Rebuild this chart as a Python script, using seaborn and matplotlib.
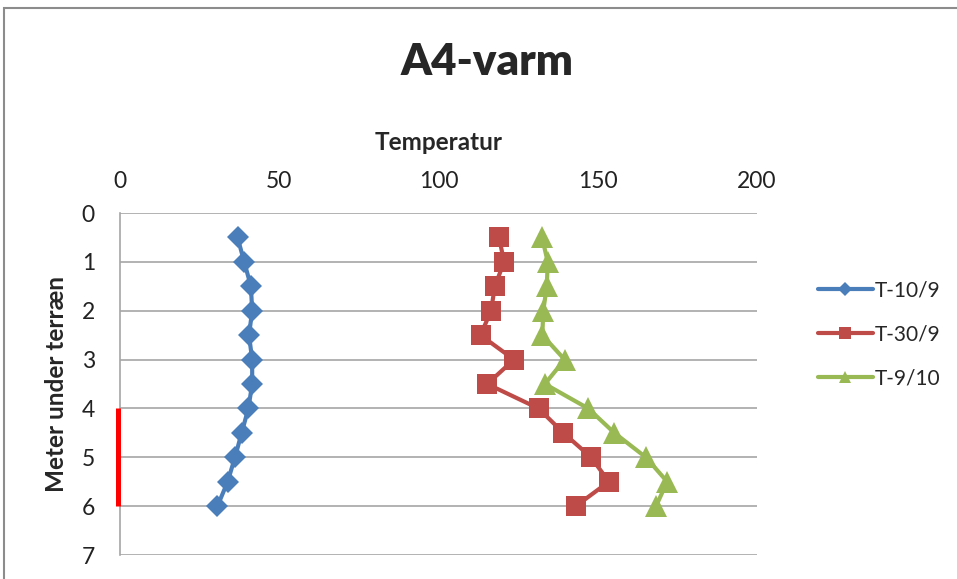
import matplotlib
matplotlib.use("Agg")
import matplotlib.pyplot as plt
from matplotlib.lines import Line2D
from matplotlib.patches import Rectangle
import seaborn as sns
import pandas as pd

# Depth below ground level (m)
depth = [0.5, 1.0, 1.5, 2.0, 2.5, 3.0, 3.5, 4.0, 4.5, 5.0, 5.5, 6.0]

# Temperature readings per date
t_10_9 = [36.9, 39.0, 41.1, 41.5, 40.5, 41.5, 41.5, 40.3, 38.2, 36.1, 33.8, 30.6]
t_30_9 = [119.0, 120.6, 117.7, 116.5, 113.2, 123.7, 115.3, 131.4, 139.2, 147.9, 153.5, 143.1]
t_9_10 = [132.5, 134.3, 134.0, 132.9, 132.6, 139.6, 133.4, 147.0, 155.2, 165.1, 171.8, 168.3]

series_names = ["T-10/9", "T-30/9", "T-9/10"]
series_values = [t_10_9, t_30_9, t_9_10]

x_ticks = [0, 50, 100, 150, 200]
y_ticks = [0, 1, 2, 3, 4, 5, 6, 7]

title = "A4-varm"
x_label = "Temperatur"
y_label = "Meter under terræn"

colors = {"T-10/9": "#4A7EBB", "T-30/9": "#BE4B48", "T-9/10": "#98B954"}
markers = {"T-10/9": "D", "T-30/9": "s", "T-9/10": "^"}
msizes = {"T-10/9": 11.5, "T-30/9": 15, "T-9/10": 16}

df = pd.concat(
    [pd.DataFrame({"temp": v, "depth": depth, "series": n})
     for n, v in zip(series_names, series_values)],
    ignore_index=True,
)

sns.set_theme(style="white")
plt.rcParams["font.family"] = ["Lato", "DejaVu Sans"]

W, H = 957, 579
fig = plt.figure(figsize=(W / 100, H / 100), dpi=100)
ax = fig.add_axes([120 / W, 1 - 555 / H, (757 - 120) / W, (555 - 213) / H])

for name in series_names:
    sns.lineplot(
        data=df[df["series"] == name], x="temp", y="depth",
        sort=False, estimator=None, ax=ax,
        color=colors[name], linewidth=3.0,
        marker=markers[name], markersize=msizes[name],
        markeredgewidth=0, legend=False, zorder=3,
    )

ax.set_xlim(0, 200)
ax.set_ylim(7, 0)
ax.set_xticks(x_ticks)
ax.set_yticks(y_ticks)
ax.xaxis.tick_top()
ax.xaxis.set_label_position("top")
ax.tick_params(axis="both", length=0, labelsize=16.5, colors="#222222")
ax.tick_params(axis="x", pad=15)
ax.tick_params(axis="y", pad=18)

ax.grid(axis="y", color="#A6A6A6", linewidth=1.2)
ax.grid(axis="x", visible=False)
for side in ["top", "right", "bottom"]:
    ax.spines[side].set_visible(False)
ax.spines["left"].set_color("#A6A6A6")
ax.spines["left"].set_linewidth(1.2)

ax.set_xlabel(x_label, fontsize=17.5, fontweight="bold", labelpad=15)
ax.set_ylabel(y_label, fontsize=17.5, fontweight="bold", labelpad=10)

# highlighted depth interval on the depth axis
ax.plot([-0.5, -0.5], [4, 6], color="#FF0000", linewidth=3.6,
        solid_capstyle="butt", clip_on=False, zorder=5)

fig.text(487 / W, 1 - 62 / H, title, ha="center", va="center",
         fontsize=31.5, fontweight="heavy")

handles = [
    Line2D([], [], color=colors[n], linewidth=3.0, marker=markers[n],
           markersize=s, markeredgewidth=0)
    for n, s in zip(series_names, [7, 9, 9])
]
fig.legend(handles, series_names, loc="upper left",
           bbox_to_anchor=(810 / W, 1 - 272 / H), frameon=False,
           fontsize=15, handlelength=2.6, handletextpad=0.1,
           labelspacing=1.15, borderaxespad=0)

# chart frame
fig.patches.append(Rectangle((4 / W, -0.05), 1.1, 1 - 8 / H + 0.05,
                             transform=fig.transFigure, fill=False,
                             edgecolor="#8C8C8C", linewidth=1.5))

fig.savefig("out.png", dpi=100)
